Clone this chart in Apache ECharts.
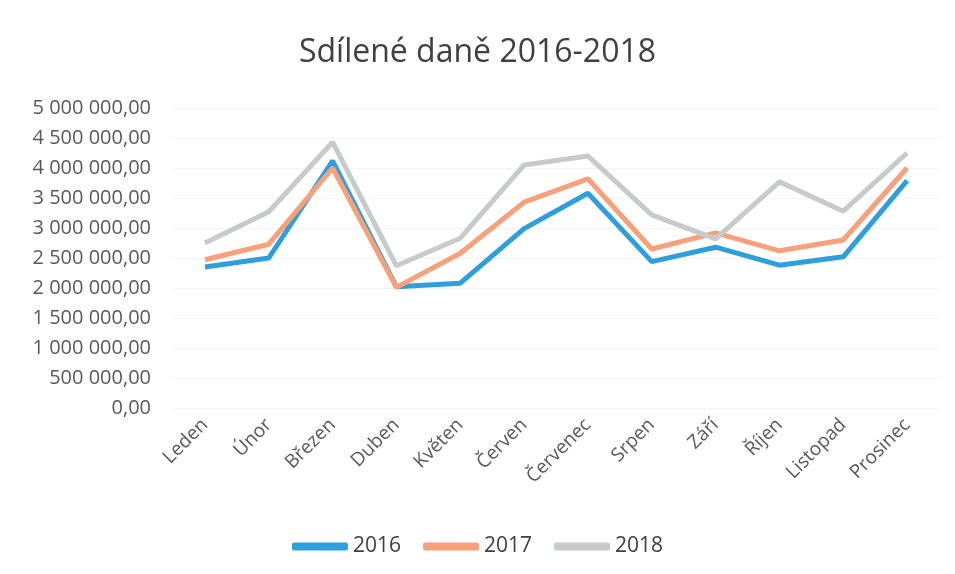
<!DOCTYPE html>
<html>
<head>
<meta charset="utf-8">
<script src="https://cdn.jsdelivr.net/npm/echarts@6/dist/echarts.min.js"></script>
<style>
  html, body { margin: 0; padding: 0; background: #fff; }
  #chart { width: 955px; height: 574px; }
</style>
</head>
<body>
<div id="chart"></div>
<script>
// mesice
const months = ['Leden', 'Únor', 'Březen', 'Duben', 'Květen', 'Červen',
  'Červenec', 'Srpen', 'Září', 'Říjen', 'Listopad', 'Prosinec'];

// hodnoty odhadnute z obrazku
const data2016 = [2350000, 2500000, 4120000, 2020000, 2080000, 2990000,
  3580000, 2440000, 2680000, 2380000, 2520000, 3790000];
const data2017 = [2470000, 2730000, 4000000, 2010000, 2580000, 3430000,
  3820000, 2650000, 2920000, 2620000, 2800000, 4000000];
const data2018 = [2750000, 3270000, 4430000, 2370000, 2830000, 4050000,
  4200000, 3220000, 2820000, 3770000, 3280000, 4250000];

function fmt(v) {
  let s = Math.round(v).toString().replace(/\B(?=(\d{3})+(?!\d))/g, ' ');
  return s + ',00';
}

const chart = echarts.init(document.getElementById('chart'));
const option = {
  animation: false,
  textStyle: { fontFamily: 'Open Sans' },
  title: {
    text: 'Sdílené daně 2016-2018',
    left: 'center',
    top: 32,
    textStyle: { fontSize: 32, fontWeight: 'normal', color: '#404040', fontFamily: 'Open Sans' }
  },
  legend: {
    bottom: 12,
    left: 'center',
    itemWidth: 56,
    itemHeight: 8,
    itemGap: 22,
    icon: 'roundRect',
    textStyle: { fontSize: 21, color: '#404040' },
    data: ['2016', '2017', '2018']
  },
  grid: { left: 173, right: 16, top: 108, bottom: 166 },
  xAxis: {
    type: 'category',
    data: months,
    axisLine: { show: false },
    axisTick: { show: false },
    axisLabel: { rotate: 45, fontSize: 19, color: '#595959', margin: 14, interval: 0 }
  },
  yAxis: {
    type: 'value',
    min: 0,
    max: 5000000,
    interval: 500000,
    axisLabel: { fontSize: 20, color: '#595959', margin: 22, formatter: fmt },
    splitLine: { lineStyle: { color: '#f3f3f3' } }
  },
  series: [
    { name: '2016', type: 'line', data: data2016, symbol: 'none',
      lineStyle: { width: 5, color: '#2e9fdd' }, itemStyle: { color: '#2e9fdd' } },
    { name: '2017', type: 'line', data: data2017, symbol: 'none',
      lineStyle: { width: 5, color: '#f6a07c' }, itemStyle: { color: '#f6a07c' } },
    { name: '2018', type: 'line', data: data2018, symbol: 'none',
      lineStyle: { width: 5, color: '#c6cac8' }, itemStyle: { color: '#c6cac8' } }
  ]
};
chart.setOption(option);
</script>
</body>
</html>
